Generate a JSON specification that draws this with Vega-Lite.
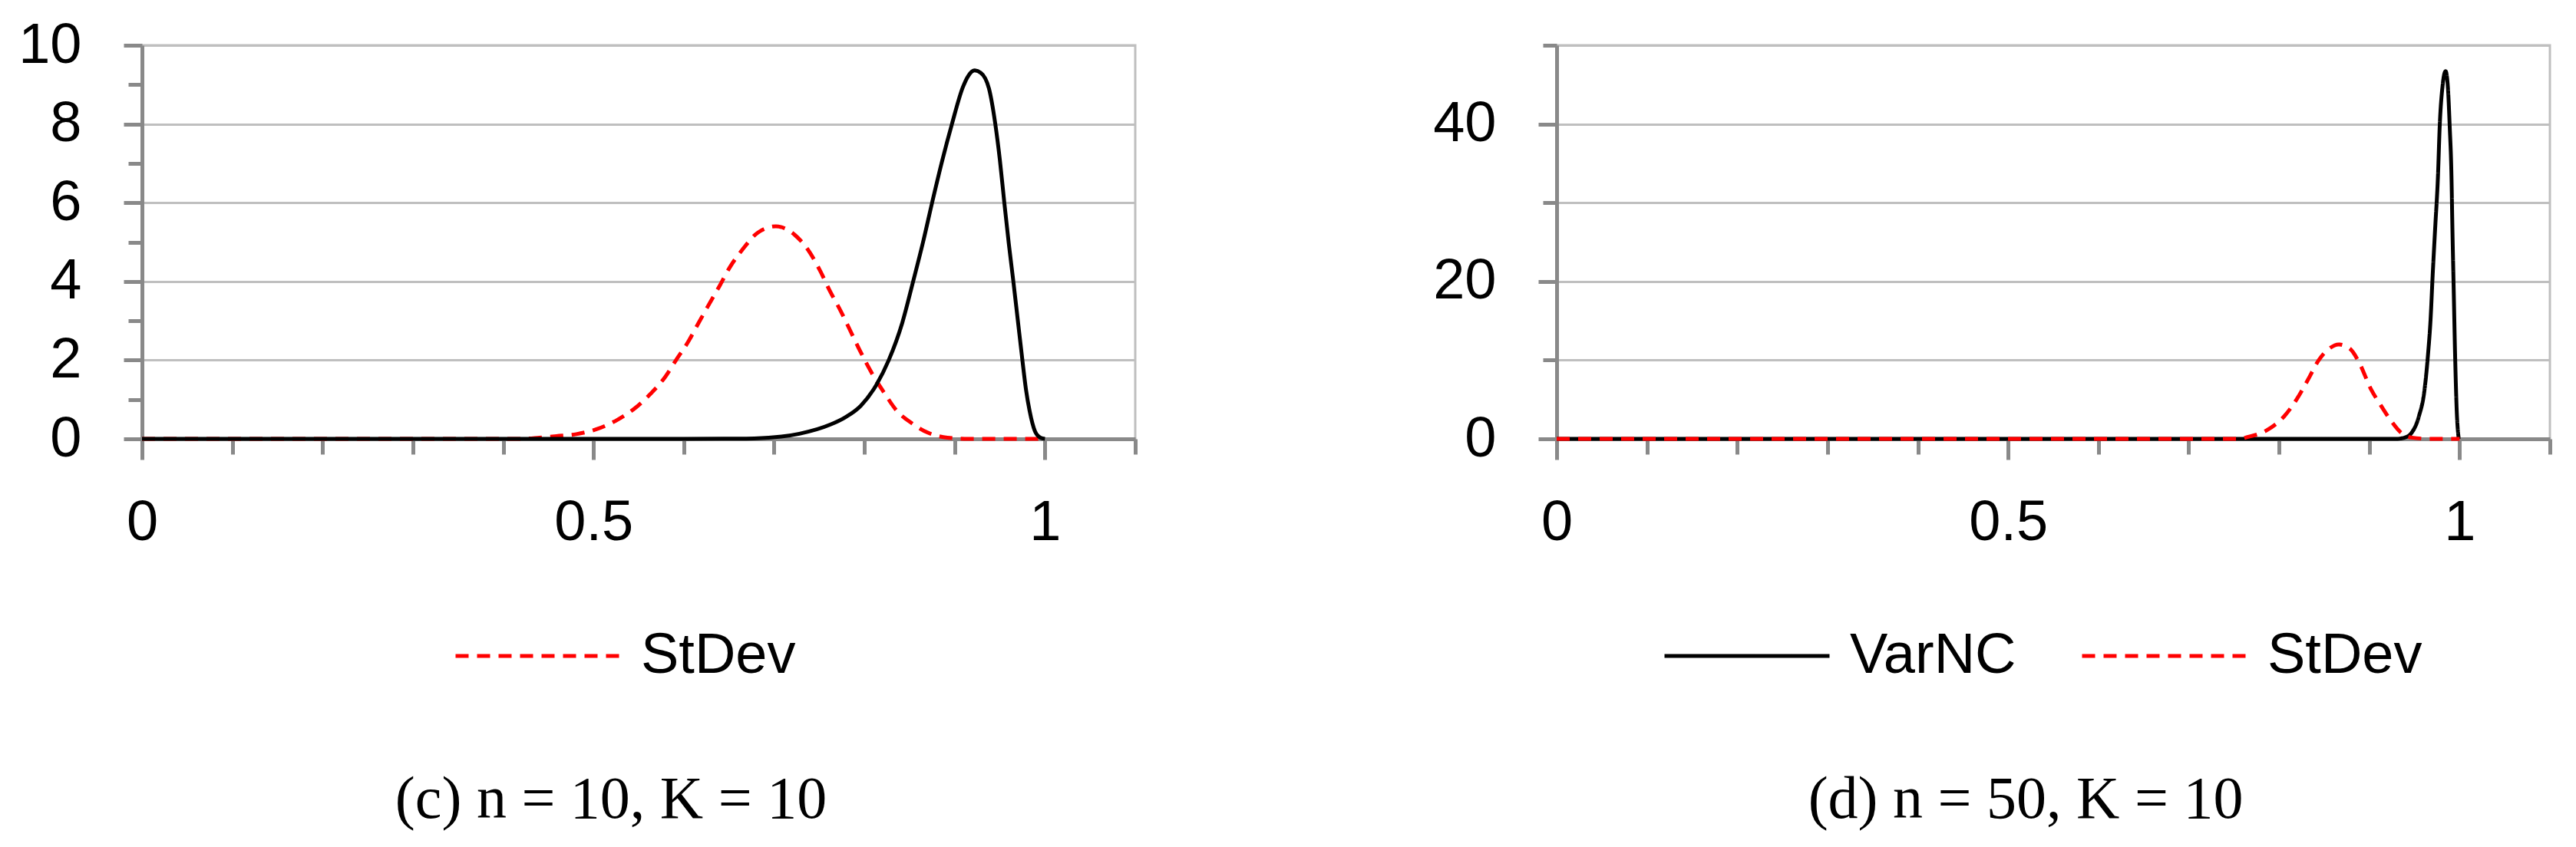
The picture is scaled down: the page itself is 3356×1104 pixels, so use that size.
{
  "$schema": "https://vega.github.io/schema/vega-lite/v6.json",
  "background": "white",
  "autosize": {"type": "pad"},
  "padding": {"left": 22, "top": 20, "right": 0, "bottom": 0},
  "bounds": "flush",
  "spacing": 549,
  "datasets": {
    "c": [
      {"series": "StDev", "x": 0, "y": 0},
      {"series": "StDev", "x": 0.42, "y": 0},
      {"series": "StDev", "x": 0.44, "y": 0.03},
      {"series": "StDev", "x": 0.459, "y": 0.07},
      {"series": "StDev", "x": 0.481, "y": 0.12},
      {"series": "StDev", "x": 0.504, "y": 0.25},
      {"series": "StDev", "x": 0.527, "y": 0.49},
      {"series": "StDev", "x": 0.546, "y": 0.78},
      {"series": "StDev", "x": 0.563, "y": 1.14},
      {"series": "StDev", "x": 0.579, "y": 1.56},
      {"series": "StDev", "x": 0.592, "y": 2.02},
      {"series": "StDev", "x": 0.605, "y": 2.47},
      {"series": "StDev", "x": 0.616, "y": 2.93},
      {"series": "StDev", "x": 0.627, "y": 3.38},
      {"series": "StDev", "x": 0.64, "y": 3.9},
      {"series": "StDev", "x": 0.651, "y": 4.36},
      {"series": "StDev", "x": 0.665, "y": 4.81},
      {"series": "StDev", "x": 0.682, "y": 5.24},
      {"series": "StDev", "x": 0.702, "y": 5.4},
      {"series": "StDev", "x": 0.723, "y": 5.18},
      {"series": "StDev", "x": 0.74, "y": 4.72},
      {"series": "StDev", "x": 0.751, "y": 4.27},
      {"series": "StDev", "x": 0.762, "y": 3.75},
      {"series": "StDev", "x": 0.774, "y": 3.24},
      {"series": "StDev", "x": 0.785, "y": 2.72},
      {"series": "StDev", "x": 0.796, "y": 2.2},
      {"series": "StDev", "x": 0.808, "y": 1.68},
      {"series": "StDev", "x": 0.822, "y": 1.17},
      {"series": "StDev", "x": 0.836, "y": 0.71},
      {"series": "StDev", "x": 0.853, "y": 0.39},
      {"series": "StDev", "x": 0.87, "y": 0.16},
      {"series": "StDev", "x": 0.892, "y": 0.03},
      {"series": "StDev", "x": 0.915, "y": 0},
      {"series": "StDev", "x": 1.0, "y": 0},
      {"series": "VarNC", "x": 0, "y": 0},
      {"series": "VarNC", "x": 0.6, "y": 0},
      {"series": "VarNC", "x": 0.66, "y": 0.005},
      {"series": "VarNC", "x": 0.694, "y": 0.03},
      {"series": "VarNC", "x": 0.728, "y": 0.13},
      {"series": "VarNC", "x": 0.762, "y": 0.36},
      {"series": "VarNC", "x": 0.779, "y": 0.55},
      {"series": "VarNC", "x": 0.796, "y": 0.84},
      {"series": "VarNC", "x": 0.813, "y": 1.36},
      {"series": "VarNC", "x": 0.827, "y": 2.0},
      {"series": "VarNC", "x": 0.842, "y": 2.95},
      {"series": "VarNC", "x": 0.854, "y": 4.0},
      {"series": "VarNC", "x": 0.865, "y": 5.0},
      {"series": "VarNC", "x": 0.875, "y": 6.0},
      {"series": "VarNC", "x": 0.886, "y": 7.05},
      {"series": "VarNC", "x": 0.897, "y": 8.0},
      {"series": "VarNC", "x": 0.909, "y": 8.93},
      {"series": "VarNC", "x": 0.915, "y": 9.22},
      {"series": "VarNC", "x": 0.922, "y": 9.36},
      {"series": "VarNC", "x": 0.929, "y": 9.3},
      {"series": "VarNC", "x": 0.938, "y": 8.9},
      {"series": "VarNC", "x": 0.945, "y": 8.0},
      {"series": "VarNC", "x": 0.95, "y": 7.1},
      {"series": "VarNC", "x": 0.955, "y": 6.0},
      {"series": "VarNC", "x": 0.96, "y": 4.95},
      {"series": "VarNC", "x": 0.965, "y": 4.0},
      {"series": "VarNC", "x": 0.97, "y": 3.0},
      {"series": "VarNC", "x": 0.975, "y": 2.0},
      {"series": "VarNC", "x": 0.979, "y": 1.25},
      {"series": "VarNC", "x": 0.983, "y": 0.71},
      {"series": "VarNC", "x": 0.989, "y": 0.19},
      {"series": "VarNC", "x": 0.995, "y": 0.03},
      {"series": "VarNC", "x": 1.0, "y": 0}
    ],
    "d": [
      {"series": "VarNC", "x": 0, "y": 0},
      {"series": "VarNC", "x": 0.93, "y": 0},
      {"series": "VarNC", "x": 0.94, "y": 0.2},
      {"series": "VarNC", "x": 0.946, "y": 0.65},
      {"series": "VarNC", "x": 0.955, "y": 2.9},
      {"series": "VarNC", "x": 0.961, "y": 6.1},
      {"series": "VarNC", "x": 0.965, "y": 10.7},
      {"series": "VarNC", "x": 0.968, "y": 15.5},
      {"series": "VarNC", "x": 0.97, "y": 20.4},
      {"series": "VarNC", "x": 0.973, "y": 26.9},
      {"series": "VarNC", "x": 0.976, "y": 33.3},
      {"series": "VarNC", "x": 0.978, "y": 39.8},
      {"series": "VarNC", "x": 0.981, "y": 44.7},
      {"series": "VarNC", "x": 0.9845, "y": 46.7},
      {"series": "VarNC", "x": 0.987, "y": 44.7},
      {"series": "VarNC", "x": 0.989, "y": 39.8},
      {"series": "VarNC", "x": 0.991, "y": 33.3},
      {"series": "VarNC", "x": 0.992, "y": 26.9},
      {"series": "VarNC", "x": 0.9935, "y": 18.8},
      {"series": "VarNC", "x": 0.995, "y": 10.7},
      {"series": "VarNC", "x": 0.9966, "y": 4.2},
      {"series": "VarNC", "x": 0.999, "y": 0},
      {"series": "StDev", "x": 0, "y": 0},
      {"series": "StDev", "x": 0.755, "y": 0},
      {"series": "StDev", "x": 0.766, "y": 0.26},
      {"series": "StDev", "x": 0.787, "y": 1.13},
      {"series": "StDev", "x": 0.806, "y": 2.9},
      {"series": "StDev", "x": 0.82, "y": 5.1},
      {"series": "StDev", "x": 0.832, "y": 7.5},
      {"series": "StDev", "x": 0.844, "y": 10.0},
      {"series": "StDev", "x": 0.856, "y": 11.5},
      {"series": "StDev", "x": 0.866, "y": 12.0},
      {"series": "StDev", "x": 0.878, "y": 11.5},
      {"series": "StDev", "x": 0.89, "y": 9.4},
      {"series": "StDev", "x": 0.901, "y": 6.5},
      {"series": "StDev", "x": 0.913, "y": 4.2},
      {"series": "StDev", "x": 0.924, "y": 2.3},
      {"series": "StDev", "x": 0.935, "y": 0.8},
      {"series": "StDev", "x": 0.947, "y": 0.16},
      {"series": "StDev", "x": 0.967, "y": 0},
      {"series": "StDev", "x": 1.0, "y": 0}
    ]
  },
  "config": {
    "view": {"stroke": "#bfbfbf", "strokeWidth": 3},
    "font": "Liberation Sans",
    "axis": {
      "title": null,
      "domainColor": "#898989",
      "domainWidth": 5,
      "tickColor": "#898989",
      "tickWidth": 5,
      "labelFont": "Liberation Sans",
      "labelFontSize": 74,
      "labelColor": "black",
      "labelFlush": false,
      "labelOverlap": false,
      "labelBound": false,
      "gridColor": "#bfbfbf",
      "gridWidth": 3
    },
    "legend": {"labelLimit": 0},
    "title": {"font": "Liberation Serif", "fontSize": 78, "fontWeight": "normal", "color": "black"}
  },
  "resolve": {
    "scale": {"x": "independent", "y": "independent", "color": "independent", "strokeDash": "independent"},
    "legend": {"color": "independent", "strokeDash": "independent"}
  },
  "hconcat": [
    {
      "width": 1294,
      "height": 513,
      "title": {"text": "(c) n = 10, K = 10", "orient": "bottom", "frame": "group", "anchor": "middle", "dx": -36, "offset": 112},
      "layer": [
        {
          "data": {"name": "c"},
          "transform": [{"filter": "datum.series === 'StDev'"}],
          "mark": {"type": "line", "strokeWidth": 5, "interpolate": "monotone"},
          "encoding": {
            "x": {"field": "x", "type": "quantitative", "scale": {"domain": [0, 1.1], "nice": false, "zero": false},
              "axis": {"values": [0, 0.1, 0.2, 0.3, 0.4, 0.5, 0.6, 0.7, 0.8, 0.9, 1, 1.1], "grid": false,
                "labelExpr": "datum.value === 0 ? '0' : datum.value === 0.5 ? '0.5' : datum.value === 1 ? '1' : ''",
                "tickSize": {"condition": {"test": "datum.value === 0 || datum.value === 0.5 || datum.value === 1", "value": 27}, "value": 20},
                "labelPadding": 46}},
            "y": {"field": "y", "type": "quantitative", "scale": {"domain": [0, 10], "nice": false},
              "axis": {"values": [0, 1, 2, 3, 4, 5, 6, 7, 8, 9, 10], "grid": true,
                "labelExpr": "datum.value % 2 === 0 ? datum.label : ''",
                "tickSize": {"condition": {"test": "datum.value % 2 === 0", "value": 24}, "value": 18},
                "gridOpacity": {"condition": {"test": "datum.value % 2 === 0 && datum.value > 0", "value": 1}, "value": 0},
                "labelPadding": 55}},
            "color": {"field": "series", "type": "nominal", "scale": {"domain": ["StDev"], "range": ["#ff0000"]},
              "legend": {"title": null, "orient": "none", "legendX": 406, "legendY": 686, "direction": "horizontal",
                "symbolType": "stroke", "symbolSize": 46225, "symbolStrokeWidth": 5,
                "labelFont": "Liberation Sans", "labelFontSize": 74, "labelColor": "black", "labelOffset": 24, "columnPadding": 75, "labelLimit": 0}},
            "strokeDash": {"field": "series", "type": "nominal", "scale": {"domain": ["StDev"], "range": [[17, 11]]},
              "legend": {"title": null, "orient": "none", "legendX": 406, "legendY": 686, "direction": "horizontal",
                "symbolType": "stroke", "symbolSize": 46225, "symbolStrokeWidth": 5,
                "labelFont": "Liberation Sans", "labelFontSize": 74, "labelColor": "black", "labelOffset": 24, "columnPadding": 75, "labelLimit": 0}}
          }
        },
        {
          "data": {"name": "c"},
          "transform": [{"filter": "datum.series === 'VarNC'"}],
          "mark": {"type": "line", "strokeWidth": 5, "color": "black", "interpolate": "monotone"},
          "encoding": {
            "x": {"field": "x", "type": "quantitative"},
            "y": {"field": "y", "type": "quantitative"}
          }
        }
      ]
    },
    {
      "width": 1294,
      "height": 513,
      "title": {"text": "(d) n = 50, K = 10", "orient": "bottom", "frame": "group", "anchor": "middle", "dx": -36, "offset": 112},
      "layer": [
        {
          "data": {"name": "d"},
          "transform": [{"filter": "datum.series === 'VarNC'"}],
          "mark": {"type": "line", "strokeWidth": 5, "interpolate": "monotone"},
          "encoding": {
            "x": {"field": "x", "type": "quantitative", "scale": {"domain": [0, 1.1], "nice": false, "zero": false},
              "axis": {"values": [0, 0.1, 0.2, 0.3, 0.4, 0.5, 0.6, 0.7, 0.8, 0.9, 1, 1.1], "grid": false,
                "labelExpr": "datum.value === 0 ? '0' : datum.value === 0.5 ? '0.5' : datum.value === 1 ? '1' : ''",
                "tickSize": {"condition": {"test": "datum.value === 0 || datum.value === 0.5 || datum.value === 1", "value": 27}, "value": 20},
                "labelPadding": 46}},
            "y": {"field": "y", "type": "quantitative", "scale": {"domain": [0, 50], "nice": false},
              "axis": {"values": [0, 10, 20, 30, 40, 50], "grid": true,
                "labelExpr": "datum.value % 20 === 0 ? datum.label : ''",
                "tickSize": {"condition": {"test": "datum.value % 20 === 0", "value": 24}, "value": 18},
                "gridOpacity": {"condition": {"test": "datum.value > 0", "value": 1}, "value": 0},
                "labelPadding": 55}},
            "color": {"field": "series", "type": "nominal", "scale": {"domain": ["VarNC", "StDev"], "range": ["#000000", "#ff0000"]},
              "legend": {"title": null, "orient": "none", "legendX": 138, "legendY": 686, "direction": "horizontal",
                "symbolType": "stroke", "symbolSize": 46225, "symbolStrokeWidth": 5,
                "labelFont": "Liberation Sans", "labelFontSize": 74, "labelColor": "black", "labelOffset": 24, "columnPadding": 75, "labelLimit": 0}},
            "strokeDash": {"field": "series", "type": "nominal", "scale": {"domain": ["VarNC", "StDev"], "range": [[1, 0], [17, 11]]},
              "legend": {"title": null, "orient": "none", "legendX": 138, "legendY": 686, "direction": "horizontal",
                "symbolType": "stroke", "symbolSize": 46225, "symbolStrokeWidth": 5,
                "labelFont": "Liberation Sans", "labelFontSize": 74, "labelColor": "black", "labelOffset": 24, "columnPadding": 75, "labelLimit": 0}}
          }
        },
        {
          "data": {"name": "d"},
          "transform": [{"filter": "datum.series === 'StDev'"}],
          "mark": {"type": "line", "strokeWidth": 5, "interpolate": "monotone"},
          "encoding": {
            "x": {"field": "x", "type": "quantitative"},
            "y": {"field": "y", "type": "quantitative"},
            "color": {"field": "series", "type": "nominal"},
            "strokeDash": {"field": "series", "type": "nominal"}
          }
        }
      ]
    }
  ]
}
